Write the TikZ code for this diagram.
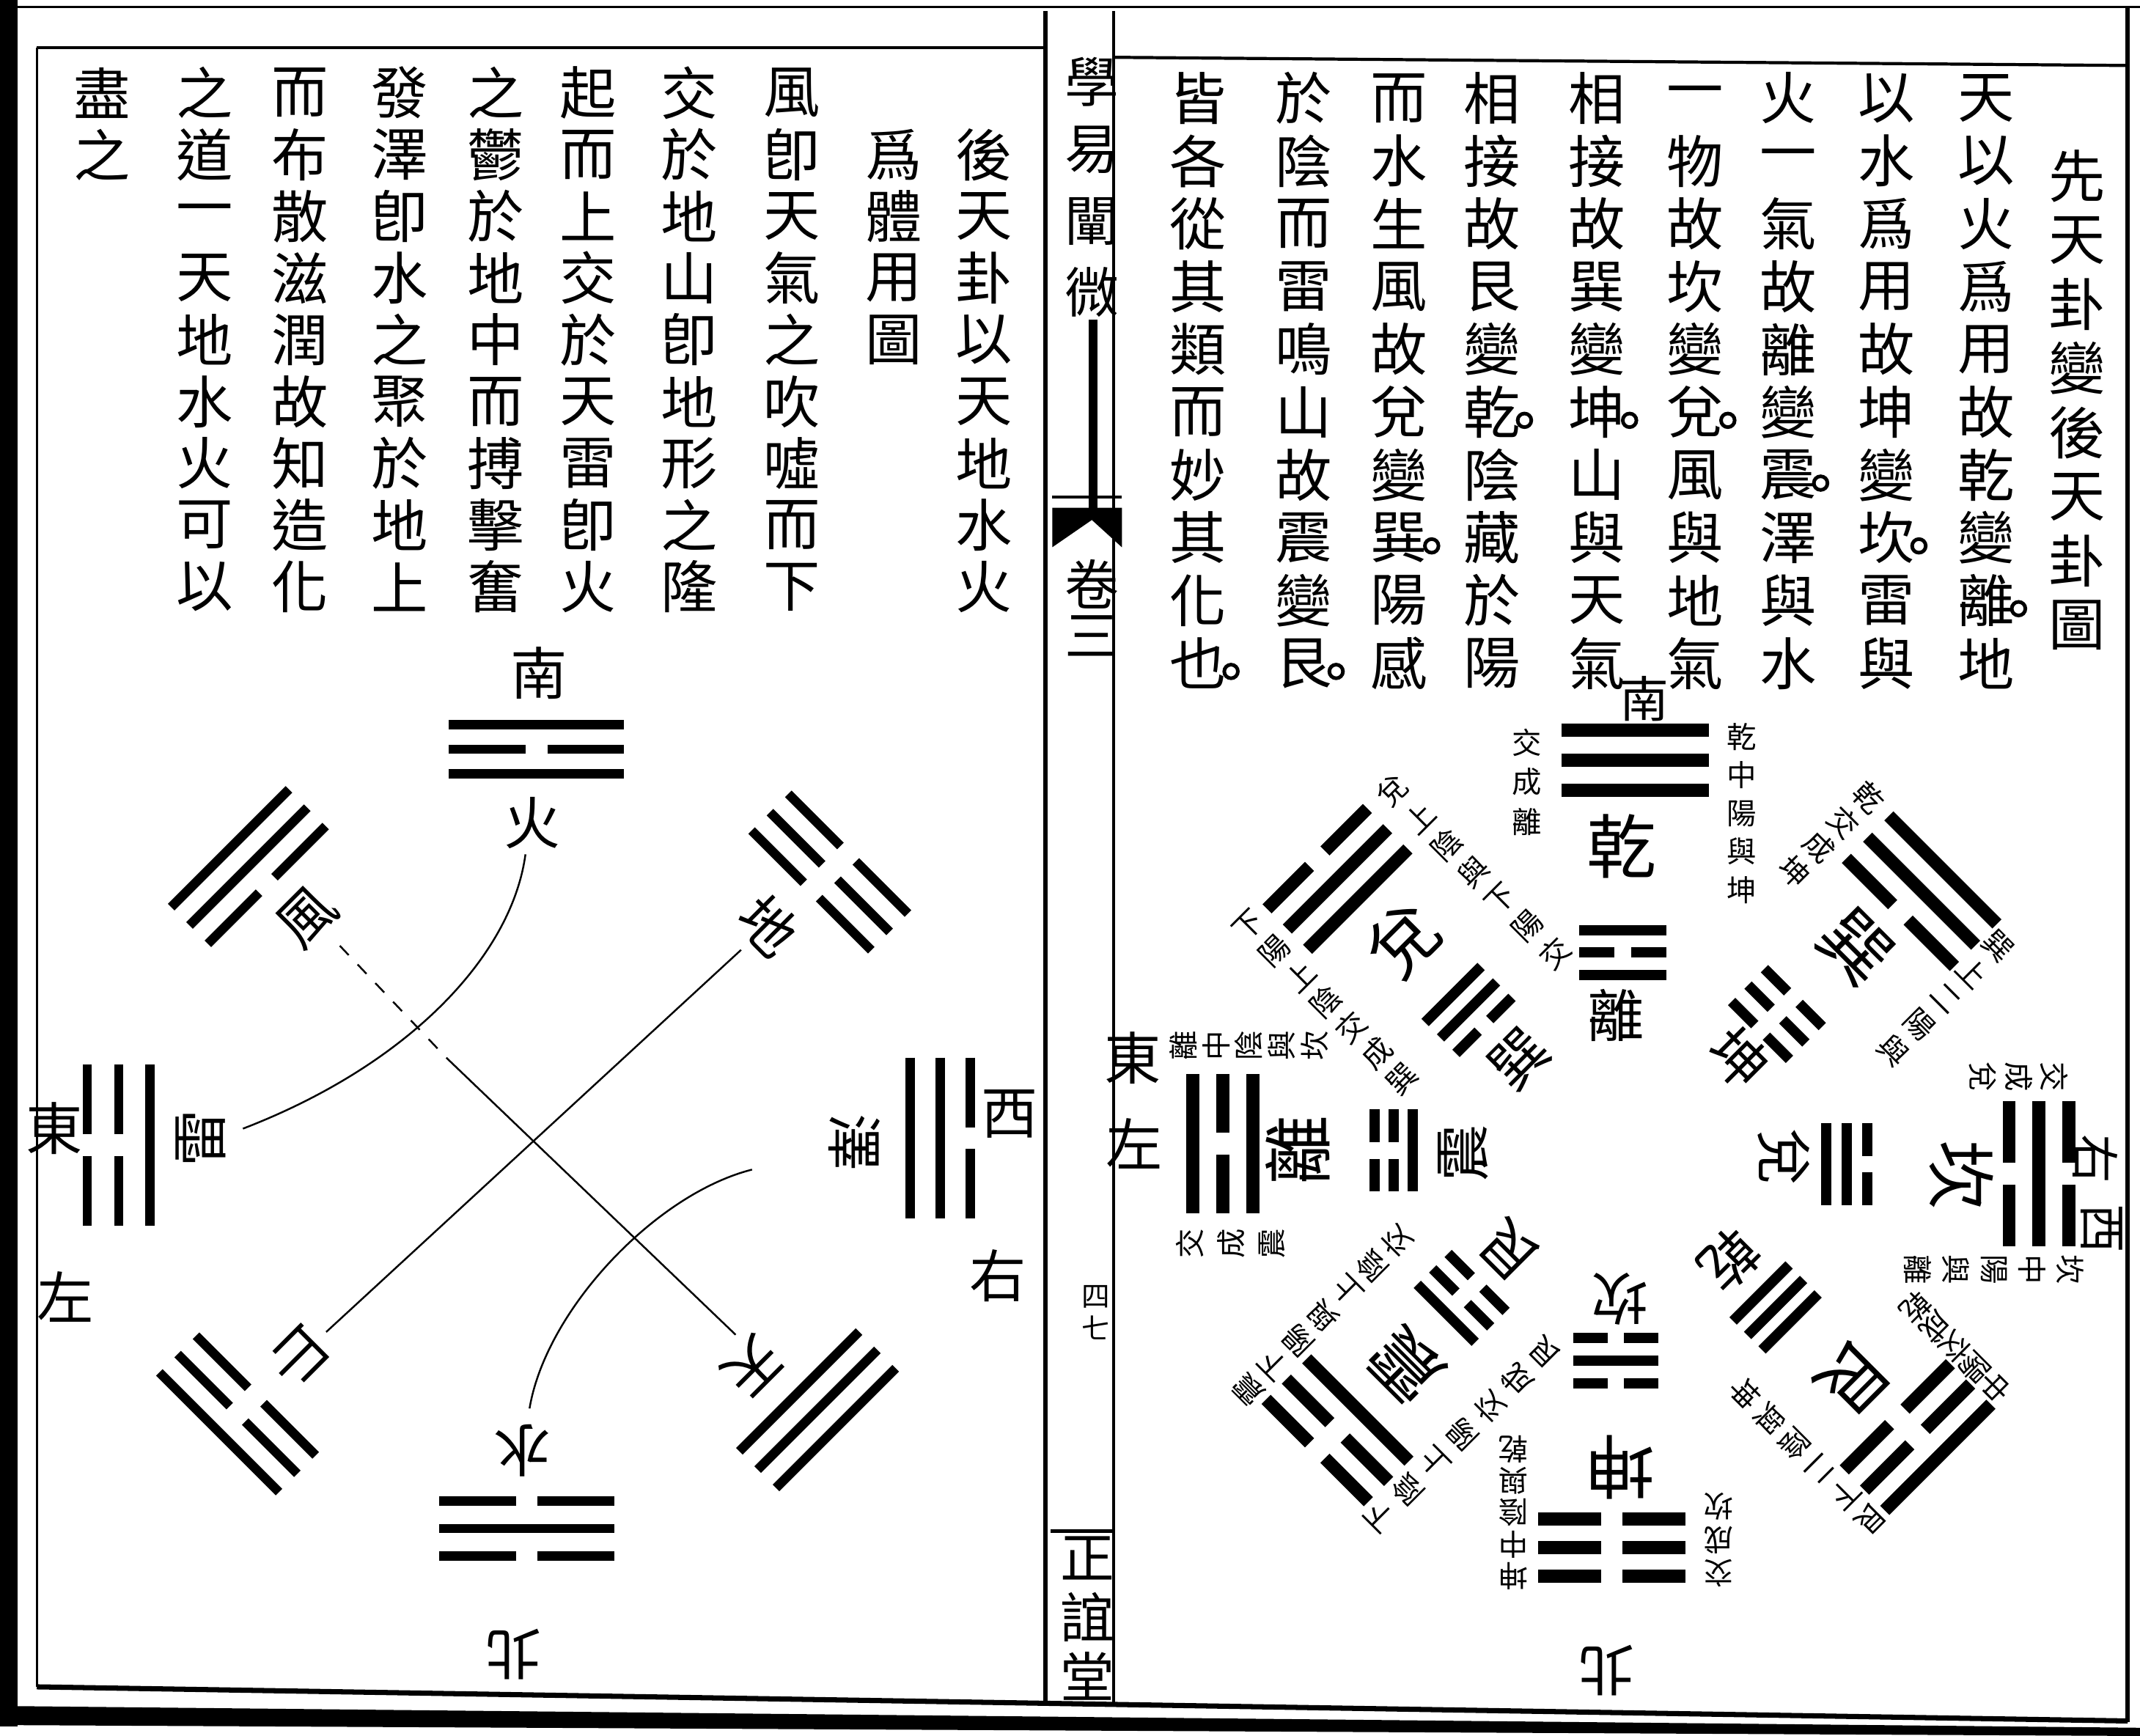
\documentclass[tikz,border=0pt]{standalone}
\usepackage{fontspec}
\newfontfamily\cjk{Noto Sans CJK TC}
\usetikzlibrary{calc}
\newcommand\trigline[5]{%
  \ifnum#1=1\relax
    \draw[#5] (-#3,#2) -- (#3,#2);
  \else
    \draw[#5] (-#3,#2) -- (-#4,#2);
    \draw[#5] (#4,#2) -- (#3,#2);
  \fi}
% x, y, angle, inner bit, middle bit, outer bit, half length, spacing, style
\newcommand\trig[9]{%
  \begin{scope}[shift={(#1,#2)},rotate=#3]
    \trigline{#4}{#8}{#7}{\tgap}{#9}
    \trigline{#5}{0}{#7}{\tgap}{#9}
    \trigline{#6}{-#8}{#7}{\tgap}{#9}
  \end{scope}}
% name, x, y0, dy, list
\newcommand\vcol[5]{%
  \foreach \zz [count=\i] in {#5} {\node[txt] (#1\i) at (#2,{#3+(\i-1)*#4}) {\zz};}}
% name, x, y, angle, lateral offset, first offset, spacing, list
\newcommand\annocol[8]{%
  \begin{scope}[shift={(#2,#3)},rotate=#4,transform shape]
    \foreach \zz [count=\i] in {#8} {\node[ann] (#1\i) at (#5,{#6+(\i-1)*#7}) {\zz};}
  \end{scope}}
\begin{document}
\begin{tikzpicture}[x=0.01862cm,y=-0.01862cm,
  txt/.style={font=\cjk\fontsize{22}{22}\selectfont,inner sep=0pt},
  lab/.style={font=\cjk\fontsize{22}{22}\selectfont,inner sep=0pt},
  slab/.style={font=\cjk\fontsize{19}{19}\selectfont,inner sep=0pt},
  biglab/.style={font=\cjk\fontsize{27}{27}\selectfont,inner sep=0pt},
  inlab/.style={font=\cjk\fontsize{22}{22}\selectfont,inner sep=0pt},
  ann/.style={font=\cjk\fontsize{11.5}{11.5}\selectfont,inner sep=0pt},
  spn/.style={font=\cjk\fontsize{21}{21}\selectfont,inner sep=0pt},
  tnote/.style={font=\cjk\fontsize{11}{11}\selectfont,inner sep=0pt},
  ltri/.style={line width=3.6pt},
  otri/.style={line width=5pt},
  itri/.style={line width=4pt},
  conn/.style={line width=0.7pt},
  quan/.style={line width=1.4pt}]
\useasboundingbox (0,0) rectangle (1568,1272);
\fill[white] (0,0) rectangle (1568,1272);

% ---------- frame ----------
\fill (0,0) rectangle (13,1265);
\draw[line width=1pt] (0,5) -- (1568,5);
\draw[line width=1.2pt] (27,35) -- (766,35);
\draw[line width=1.2pt] (816,42) -- (1559,48);
\draw[line width=1pt] (27,35) -- (27,1236);
\draw[line width=1.6pt] (1559,5) -- (1559,1262);
\draw[line width=2pt] (27,1236) -- (1559,1261);
\fill (0,1250) -- (1568,1266) -- (1568,1272) -- (0,1264) -- cycle;
\draw[line width=1.6pt] (766,8) -- (766,1248);
\draw[line width=1pt] (816,8) -- (816,1250);

% ---------- spine ----------
\node[spn] (s1) at (800,60) {學};
\node[spn] (s2) at (800,110) {易};
\node[spn] (s3) at (800,162) {闡};
\node[spn] (s4) at (800,214) {微};
\draw[line width=3.5pt] (801,234) -- (801,372);
\draw[line width=1.2pt] (771,364) -- (822,364);
\fill (771,372) -- (822,372) -- (822,401) -- (800,381) -- (771,401) -- cycle;
\node[spn] (s5) at (800,428) {卷};
\node[spn] (s6) at (800,466) {三};
\node[tnote] (s7) at (803,950) {四};
\node[tnote] (s8) at (803,973) {七};
\draw[line width=1.5pt] (770,1122) -- (815,1122);
\node[spn] (s9) at (797,1142) {正};
\node[spn] (s10) at (797,1185) {誼};
\node[spn] (s11) at (797,1228) {堂};

% ---------- left page text ----------
\vcol{la}{721}{113.25}{45.25}{後,天,卦,以,天,地,水,火}
\vcol{lb}{655}{113.25}{45.25}{爲,體,用,圖}
\vcol{lc}{580}{68}{45.25}{風,卽,天,氣,之,吹,噓,而,下}
\vcol{ld}{505}{68}{45.25}{交,於,地,山,卽,地,形,之,隆}
\vcol{le}{431}{68}{45.25}{起,而,上,交,於,天,雷,卽,火}
\vcol{lf}{363}{68}{45.25}{之,鬱,於,地,中,而,搏,擊,奮}
\vcol{lg}{293}{68}{45.25}{發,澤,卽,水,之,聚,於,地,上}
\vcol{lh}{220}{68}{45.25}{而,布,散,滋,潤,故,知,造,化}
\vcol{li}{150}{68}{45.25}{之,道,一,天,地,水,火,可,以}
\vcol{lj}{75}{68}{45.25}{盡,之}

% ---------- right page text ----------
\vcol{ra}{1522}{129}{47}{先,天,卦,變,後,天,卦,圖}
\vcol{rb}{1455}{72}{46}{天,以,火,爲,用,故,乾,變,離,地}
\vcol{rc}{1382}{72}{46}{以,水,爲,用,故,坤,變,坎,雷,與}
\vcol{rd}{1310}{72}{46}{火,一,氣,故,離,變,震,澤,與,水}
\vcol{re}{1242}{72}{46}{一,物,故,坎,變,兌,風,與,地,氣}
\vcol{rf}{1170}{72}{46}{相,接,故,巽,變,坤,山,與,天,氣}
\vcol{rg}{1093}{72}{46}{相,接,故,艮,變,乾,陰,藏,於,陽}
\vcol{rh}{1025}{72}{46}{而,水,生,風,故,兌,變,巽,陽,感}
\vcol{ri}{955}{72}{46}{於,陰,而,雷,鳴,山,故,震,變,艮}
\vcol{rj}{878}{72}{46}{皆,各,從,其,類,而,妙,其,化,也}
\foreach \px/\py in {1479/446,1406/400,1334/354,1266/308,1194/308,1117/308,1049/400,979/492,902/492}
  {\draw[quan] (\px,\py) circle[radius=5];}

% ---------- left diagram ----------
\def\tgap{8}
\trig{393}{549}{0}{1}{0}{1}{64}{18}{ltri}
\trig{182}{635}{45}{0}{1}{1}{61}{19}{ltri}
\trig{608}{639}{-45}{0}{0}{0}{62}{19}{ltri}
\trig{87}{839}{90}{1}{0}{0}{59}{23}{ltri}
\trig{689}{834}{-90}{1}{1}{0}{59}{22}{ltri}
\trig{174}{1036}{135}{0}{0}{1}{62}{19}{ltri}
\trig{599}{1033}{-135}{1}{1}{1}{62}{19}{ltri}
\trig{386}{1120}{180}{0}{1}{0}{64}{20}{ltri}

\node[lab] (nan1) at (395,493) {南};
\node[lab] (huo) at (390,603) {火};
\node[lab,rotate=45] (feng) at (225,672) {風};
\node[lab,rotate=-45] (di) at (563,678) {地};
\node[lab,rotate=90] (lei) at (147,834) {雷};
\node[lab,rotate=-90] (ze) at (626,837) {澤};
\node[lab,rotate=135] (shan) at (219,994) {山};
\node[lab,rotate=-135] (tian) at (551,1001) {天};
\node[lab,rotate=180] (shui) at (383,1063) {水};
\node[lab,rotate=180] (bei1) at (376,1212) {北};
\node[lab] (dong1) at (40,827) {東};
\node[lab] (zuo1) at (48,950) {左};
\node[lab] (xi1) at (740,816) {西};
\node[lab] (you1) at (731,935) {右};

\coordinate (fmid) at (327,775);
\draw[conn,dash pattern=on 5pt off 5pt] ($(feng)+(24,21)$) -- (fmid);
\draw[conn] (fmid) -- ($(tian)+(-12,-23)$);
\draw[conn] ($(di)+(-20,18)$) -- ($(shan)+(20,-18)$);
\draw[conn] ($(huo)+(-5,23)$) .. controls (375,700) and (300,780) .. ($(lei)+(31,-7)$);
\draw[conn] ($(ze)+(-75,20)$) .. controls (480,875) and (400,960) .. ($(shui)+(5,-31)$);

% ---------- right diagram ----------
\def\tgap{8}
\trig{1198}{557}{0}{1}{1}{1}{54}{22}{otri}
\trig{980}{644}{45}{1}{1}{0}{52}{21}{otri}
\trig{896}{838}{90}{1}{0}{1}{51}{22}{otri}
\trig{980}{1048}{135}{1}{0}{0}{53}{21}{otri}
\trig{1181}{1134}{180}{0}{0}{0}{54}{21}{otri}
\trig{1405}{1053}{-135}{0}{0}{1}{55}{21}{otri}
\trig{1494}{860}{-90}{0}{1}{0}{53}{22}{otri}
\trig{1408}{653}{-45}{0}{1}{1}{56}{22}{otri}

\def\tgap{6}
\trig{1189}{698}{0}{1}{0}{1}{32}{16.5}{itri}
\trig{1076}{740}{45}{0}{1}{1}{29}{16}{itri}
\trig{1021}{843}{90}{1}{0}{0}{30}{14}{itri}
\trig{1071}{951}{135}{0}{0}{1}{30}{16}{itri}
\trig{1184}{997}{180}{0}{1}{0}{31}{16.5}{itri}
\trig{1301}{958}{-135}{1}{1}{1}{29}{15}{itri}
\trig{1353}{853}{-90}{1}{1}{0}{30}{15}{itri}
\trig{1302}{743}{-45}{0}{0}{0}{30}{17}{itri}

\node[biglab] (oS) at (1188,620) {乾};
\node[biglab,rotate=45] (oSE) at (1028,689) {兌};
\node[biglab,rotate=90] (oE) at (951,843) {離};
\node[biglab,rotate=135] (oNE) at (1030,1000) {震};
\node[biglab,rotate=180] (oN) at (1187,1075) {坤};
\node[biglab,rotate=-135] (oNW) at (1358,1010) {艮};
\node[biglab,rotate=-90] (oW) at (1437,861) {坎};
\node[biglab,rotate=-45] (oSW) at (1360,694) {巽};

\node[inlab] (iS) at (1184,744) {離};
\node[inlab,rotate=45] (iSE) at (1113,776) {巽};
\node[inlab,rotate=90] (iE) at (1072,845) {震};
\node[inlab,rotate=135] (iNE) at (1106,916) {艮};
\node[inlab,rotate=180] (iN) at (1187,952) {坎};
\node[inlab,rotate=-135] (iNW) at (1267,923) {乾};
\node[inlab,rotate=-90] (iW) at (1307,848) {兌};
\node[inlab,rotate=-45] (iSW) at (1274,775) {坤};

\annocol{aSa}{1198}{557}{0}{78}{-17}{28}{乾,中,陽,與,坤}
\annocol{aSb}{1198}{557}{0}{-79}{-13}{29}{交,成,離}
\annocol{aSEa}{980}{644}{45}{74}{-17}{28}{兌,上,陰,與,下,陽,交}
\annocol{aSEb}{980}{644}{45}{-70}{-22}{26.5}{下,陽,上,陰,交,成,巽}
\annocol{aEa}{896}{838}{90}{72}{-29}{24}{離,中,陰,與,坎}
\annocol{aEb}{896}{838}{90}{-73}{-24}{30}{交,成,震}
\annocol{aNEa}{980}{1048}{135}{67}{-25}{25.6}{震,下,陽,與,上,陰,交}
\annocol{aNEb}{980}{1048}{135}{-67}{-23}{28.5}{下,陰,上,陽,交,成,艮}
\annocol{aNa}{1181}{1134}{180}{72}{-21}{23.3}{坤,中,陰,與,乾}
\annocol{aNb}{1181}{1134}{180}{-78}{-19}{24.5}{交,成,坎}
\annocol{aNWa}{1405}{1053}{-135}{67}{-18}{26}{艮,下,二,陰,與,坤}
\annocol{aNWb}{1405}{1053}{-135}{-66}{-14}{20.5}{中,陽,交,成,乾}
\annocol{aWa}{1494}{860}{-90}{70}{-23}{28}{坎,中,陽,與,離}
\annocol{aWb}{1494}{860}{-90}{-71}{-11}{26}{交,成,兌}
\annocol{aSWa}{1408}{653}{-45}{68}{-11}{27}{巽,上,二,陽,與}
\annocol{aSWb}{1408}{653}{-45}{-76}{-21}{25.6}{乾,交,成,坤}

\node[slab] (nan2) at (1205,512) {南};
\node[lab,rotate=180] (bei2) at (1177,1224) {北};
\node[lab] (dong2) at (830,775) {東};
\node[lab] (zuo2) at (831,838) {左};
\node[slab,rotate=-90] (you2) at (1535,849) {右};
\node[slab,rotate=-90] (xi2) at (1540,900) {西};
\end{tikzpicture}
\end{document}
